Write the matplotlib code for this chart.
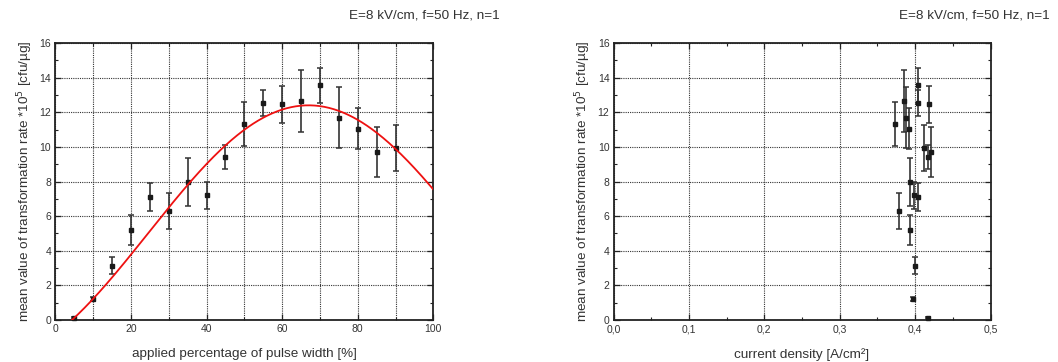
import numpy as np
import matplotlib
matplotlib.use("Agg")
import matplotlib.pyplot as plt
from matplotlib.ticker import MultipleLocator, FuncFormatter

plt.rcParams['font.family'] = ['Liberation Sans', 'DejaVu Sans']

# Measured transformation rate (*10^5 cfu/µg) versus applied pulse width
pulse_width = [5, 10, 15, 20, 25, 30, 35, 40, 45, 50, 55, 60, 65, 70, 75, 80, 85, 90]
rate = [0.10, 1.20, 3.13, 5.19, 7.12, 6.31, 7.98, 7.21, 9.42, 11.31, 12.54, 12.46,
        12.65, 13.56, 11.69, 11.06, 9.71, 9.96]
rate_err = [0.05, 0.12, 0.50, 0.87, 0.82, 1.03, 1.37, 0.77, 0.69, 1.28, 0.75, 1.08,
            1.78, 1.01, 1.74, 1.17, 1.43, 1.33]

# Current density measured for each pulse width [A/cm²]
current_density = [0.4176, 0.3978, 0.4000, 0.3934, 0.4044, 0.3780, 0.3934, 0.3990,
                   0.4176, 0.3740, 0.4044, 0.4180, 0.3858, 0.4044, 0.3880, 0.3916,
                   0.4212, 0.4123]

# Sine fit of rate vs pulse width: y = y0 + A*cos(pi*(x - xc)/w)
fit_y0 = 5.01
fit_A = 7.39
fit_xc = 67.0
fit_w = 84.9

title_text = "E=8 kV/cm, f=50 Hz, n=1"
ylabel_text = "mean value of transformation rate *10$^5$ [cfu/µg]"
label_size = 9.7

fig = plt.figure(figsize=(10.58, 3.62), dpi=100)
W, H = 1058, 362
ax1 = fig.add_axes([55.3 / W, 1 - 320 / H, (433.3 - 55.3) / W, (320 - 43) / H])
ax2 = fig.add_axes([613.5 / W, 1 - 320 / H, (990.5 - 613.5) / W, (320 - 43) / H])


def style_axes(ax):
    for sp in ax.spines.values():
        sp.set_linewidth(1.3)
        sp.set_color('#222222')
    ax.set_ylim(0, 16)
    ax.yaxis.set_major_locator(MultipleLocator(2))
    ax.yaxis.set_minor_locator(MultipleLocator(1))
    ax.tick_params(which='both', direction='in', top=True, right=True,
                   labelsize=7.5, colors='#222222', labelcolor='#333333')
    ax.tick_params(which='major', length=4, width=0.9, pad=3)
    ax.tick_params(which='minor', length=2.5, width=0.8)
    ax.grid(True, which='major', linestyle=(0, (1, 1)), color='#333333', linewidth=0.8)
    ax.set_axisbelow(True)
    ax.set_ylabel(ylabel_text, fontsize=label_size, color='#333333', labelpad=3)


def draw_points(ax, x):
    ax.errorbar(x, rate, yerr=rate_err, fmt='s', color='#1a1a1a', ecolor='#333333',
                markersize=3, elinewidth=1.2, capsize=2.5, capthick=1.1, zorder=3,
                clip_on=False)


# Left panel: rate vs pulse width with the fitted curve
style_axes(ax1)
ax1.set_xlim(0, 100)
ax1.xaxis.set_major_locator(MultipleLocator(20))
ax1.xaxis.set_minor_locator(MultipleLocator(10))
ax1.grid(True, which='minor', axis='x', linestyle=(0, (1, 1)), color='#333333',
         linewidth=0.8)
draw_points(ax1, pulse_width)
xs = np.linspace(0, 100, 400)
ax1.plot(xs, fit_y0 + fit_A * np.cos(np.pi * (xs - fit_xc) / fit_w),
         color='#ee1111', linewidth=1.3, zorder=4)
ax1.set_xlabel("applied percentage of pulse width [%]", fontsize=label_size,
               color='#333333', labelpad=10)

# Right panel: rate vs current density
style_axes(ax2)
ax2.set_xlim(0, 0.5)
ax2.xaxis.set_major_locator(MultipleLocator(0.1))
ax2.xaxis.set_minor_locator(MultipleLocator(0.05))
ax2.xaxis.set_major_formatter(FuncFormatter(lambda v, p: f"{v:.1f}".replace('.', ',')))
draw_points(ax2, current_density)
ax2.set_xlabel("current density [A/cm²]", fontsize=label_size, color='#333333',
               labelpad=10)

fig.text(500 / W, 1 - 15 / H, title_text, ha='right', va='center', fontsize=label_size,
         color='#333333')
fig.text(1050 / W, 1 - 15 / H, title_text, ha='right', va='center', fontsize=label_size,
         color='#333333')

fig.savefig("out.png", dpi=100, facecolor='white')
